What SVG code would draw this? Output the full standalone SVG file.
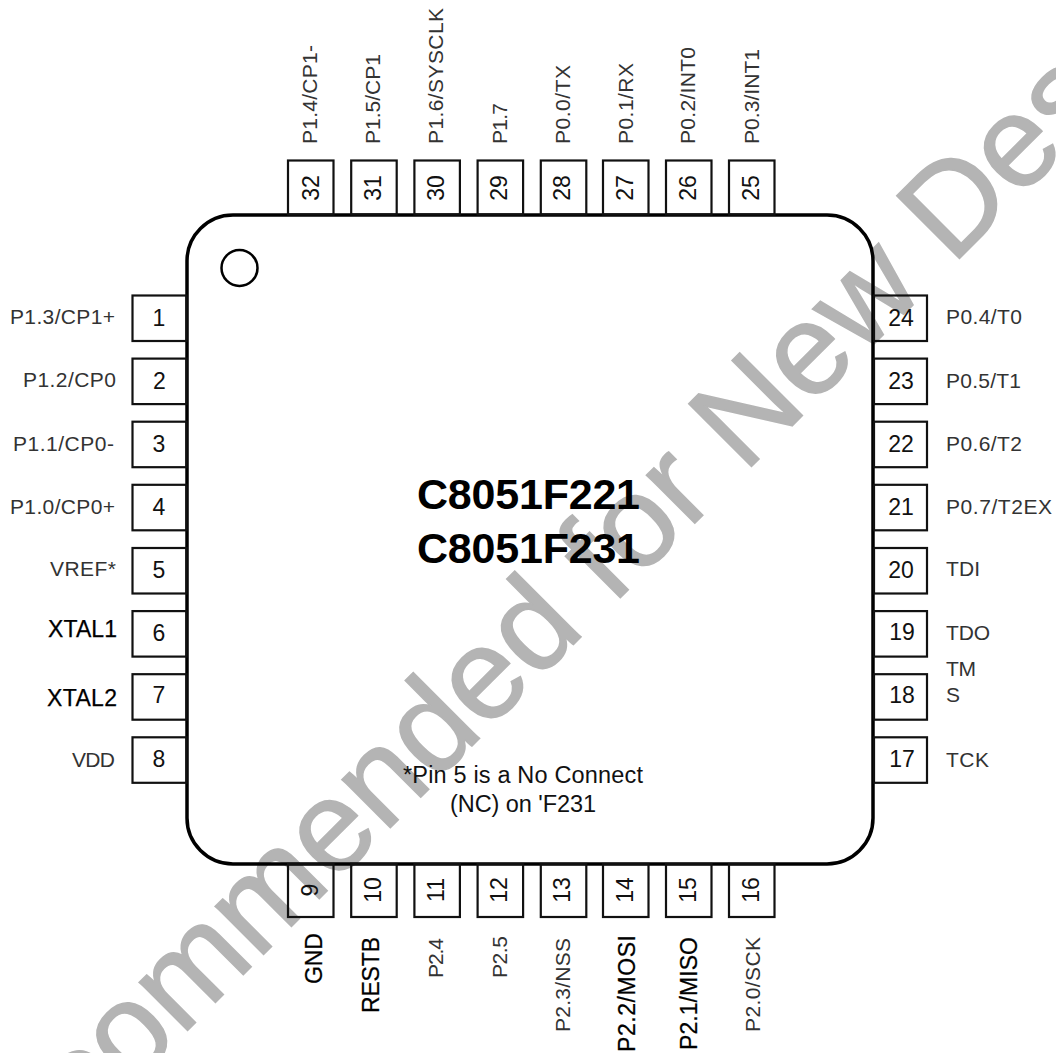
<svg xmlns="http://www.w3.org/2000/svg" width="1056" height="1053" viewBox="0 0 1056 1053">
<style>
text{font-family:"Liberation Sans",Arial,sans-serif}
.wm{font-size:129px;fill:#b4b4b4;stroke:#b4b4b4;stroke-width:1.5}
.pin{fill:none;stroke:#111;stroke-width:2.2}
.n{font-size:23px;fill:#111;text-anchor:middle}
.l{font-size:21px;fill:#333}
.b{font-size:23px;fill:#000;stroke:#000;stroke-width:.25}
.t{font-size:43px;font-weight:bold;fill:#000}
.note{font-size:23.5px;fill:#111}
</style>
<rect width="1056" height="1053" fill="#fff"/>
<text id="watermark" class="wm" transform="translate(85 1133) rotate(-45)">commended for New Des</text>
<g id="body"><rect x="187" y="215" width="686" height="649" rx="46" ry="46" fill="none" stroke="#000" stroke-width="3.5"/><circle cx="239.5" cy="268" r="18" fill="none" stroke="#000" stroke-width="2.5"/></g>
<g id="title"><text class="t" x="417" y="509" textLength="223">C8051F221</text><text class="t" x="417" y="562.5" textLength="223">C8051F231</text></g>
<g id="note"><text class="note" x="403" y="783" textLength="240">*Pin 5 is a No Connect</text><text class="note" x="450" y="812" textLength="146">(NC) on 'F231</text></g>
<g id="pin1"><rect class="pin" x="132.5" y="295.5" width="54" height="45.5"/><text class="n" x="159" y="326">1</text><text class="l" x="10" y="324" textLength="105">P1.3/CP1+</text></g>
<g id="pin2"><rect class="pin" x="132.5" y="358.6" width="54" height="45.5"/><text class="n" x="159.5" y="389">2</text><text class="l" x="23" y="387" textLength="93">P1.2/CP0</text></g>
<g id="pin3"><rect class="pin" x="132.5" y="421.7" width="54" height="45.5"/><text class="n" x="159" y="451.5">3</text><text class="l" x="13" y="451" textLength="101">P1.1/CP0-</text></g>
<g id="pin4"><rect class="pin" x="132.5" y="484.8" width="54" height="45.5"/><text class="n" x="159" y="514.5">4</text><text class="l" x="10" y="514" textLength="105">P1.0/CP0+</text></g>
<g id="pin5"><rect class="pin" x="132.5" y="548" width="54" height="45.5"/><text class="n" x="159" y="577.5">5</text><text class="l" x="50" y="576" textLength="66">VREF*</text></g>
<g id="pin6"><rect class="pin" x="132.5" y="611.1" width="54" height="45.5"/><text class="n" x="159" y="640.5">6</text><text class="b" x="48" y="637" textLength="69">XTAL1</text></g>
<g id="pin7"><rect class="pin" x="132.5" y="674.2" width="54" height="45.5"/><text class="n" x="159" y="703">7</text><text class="b" x="47" y="706" textLength="70">XTAL2</text></g>
<g id="pin8"><rect class="pin" x="132.5" y="737.3" width="54" height="45.5"/><text class="n" x="159" y="767">8</text><text class="l" x="72" y="767" textLength="43">VDD</text></g>
<g id="pin24"><rect class="pin" x="874" y="295.5" width="53" height="45.5"/><text class="n" x="901" y="326">24</text><text class="l" x="946" y="324" textLength="76">P0.4/T0</text></g>
<g id="pin23"><rect class="pin" x="874" y="358.6" width="53" height="45.5"/><text class="n" x="901" y="389">23</text><text class="l" x="946" y="388" textLength="75">P0.5/T1</text></g>
<g id="pin22"><rect class="pin" x="874" y="421.7" width="53" height="45.5"/><text class="n" x="901" y="451.5">22</text><text class="l" x="946" y="451" textLength="76">P0.6/T2</text></g>
<g id="pin21"><rect class="pin" x="874" y="484.8" width="53" height="45.5"/><text class="n" x="901" y="514.5">21</text><text class="l" x="946" y="514" textLength="106">P0.7/T2EX</text></g>
<g id="pin20"><rect class="pin" x="874" y="548" width="53" height="45.5"/><text class="n" x="901" y="577.5">20</text><text class="l" x="946" y="576" textLength="34">TDI</text></g>
<g id="pin19"><rect class="pin" x="874" y="611.1" width="53" height="45.5"/><text class="n" x="902" y="640">19</text><text class="l" x="946" y="640" textLength="44">TDO</text></g>
<g id="pin18"><rect class="pin" x="874" y="674.2" width="53" height="45.5"/><text class="n" x="902" y="703">18</text><text class="l" x="946" y="676" textLength="30">TM</text><text class="l" x="946" y="702" textLength="13">S</text></g>
<g id="pin17"><rect class="pin" x="874" y="737.3" width="53" height="45.5"/><text class="n" x="902" y="767">17</text><text class="l" x="946" y="767" textLength="43">TCK</text></g>
<g id="pin32"><rect class="pin" x="288" y="160.5" width="45.5" height="54"/><text class="n" transform="translate(319 188) rotate(-90)">32</text><text class="l" transform="translate(317 144) rotate(-90)" textLength="99">P1.4/CP1-</text></g>
<g id="pin31"><rect class="pin" x="351.2" y="160.5" width="45.5" height="54"/><text class="n" transform="translate(381 188) rotate(-90)">31</text><text class="l" transform="translate(380 144) rotate(-90)" textLength="90">P1.5/CP1</text></g>
<g id="pin30"><rect class="pin" x="414.4" y="160.5" width="45.5" height="54"/><text class="n" transform="translate(444 188) rotate(-90)">30</text><text class="l" transform="translate(443 144) rotate(-90)" textLength="136">P1.6/SYSCLK</text></g>
<g id="pin29"><rect class="pin" x="477.6" y="160.5" width="45.5" height="54"/><text class="n" transform="translate(507 188) rotate(-90)">29</text><text class="l" transform="translate(506.5 144) rotate(-90)" textLength="41">P1.7</text></g>
<g id="pin28"><rect class="pin" x="540.8" y="160.5" width="45.5" height="54"/><text class="n" transform="translate(570 188) rotate(-90)">28</text><text class="l" transform="translate(570 144) rotate(-90)" textLength="79">P0.0/TX</text></g>
<g id="pin27"><rect class="pin" x="603" y="160.5" width="45.5" height="54"/><text class="n" transform="translate(633 188) rotate(-90)">27</text><text class="l" transform="translate(633 144) rotate(-90)" textLength="81">P0.1/RX</text></g>
<g id="pin26"><rect class="pin" x="666" y="160.5" width="45.5" height="54"/><text class="n" transform="translate(696 188) rotate(-90)">26</text><text class="l" transform="translate(695 144) rotate(-90)" textLength="97">P0.2/INT0</text></g>
<g id="pin25"><rect class="pin" x="729" y="160.5" width="45.5" height="54"/><text class="n" transform="translate(759 188) rotate(-90)">25</text><text class="l" transform="translate(759 144) rotate(-90)" textLength="95">P0.3/INT1</text></g>
<g id="pin9"><rect class="pin" x="288" y="864" width="45.5" height="53"/><text class="n" transform="translate(318 890) rotate(-90)">9</text><text class="b" transform="translate(322 984) rotate(-90)" textLength="51">GND</text></g>
<g id="pin10"><rect class="pin" x="351.2" y="864" width="45.5" height="53"/><text class="n" transform="translate(380.5 890) rotate(-90)">10</text><text class="b" transform="translate(379 1013) rotate(-90)" textLength="76">RESTB</text></g>
<g id="pin11"><rect class="pin" x="414.4" y="864" width="45.5" height="53"/><text class="n" transform="translate(444 890) rotate(-90)">11</text><text class="l" transform="translate(443 978) rotate(-90)" textLength="40">P2.4</text></g>
<g id="pin12"><rect class="pin" x="477.6" y="864" width="45.5" height="53"/><text class="n" transform="translate(507 890) rotate(-90)">12</text><text class="l" transform="translate(507 978) rotate(-90)" textLength="42">P2.5</text></g>
<g id="pin13"><rect class="pin" x="540.8" y="864" width="45.5" height="53"/><text class="n" transform="translate(570 890) rotate(-90)">13</text><text class="l" transform="translate(570 1032) rotate(-90)" textLength="94">P2.3/NSS</text></g>
<g id="pin14"><rect class="pin" x="603" y="864" width="45.5" height="53"/><text class="n" transform="translate(633 890) rotate(-90)">14</text><text class="b" transform="translate(635 1052) rotate(-90)" textLength="117">P2.2/MOSI</text></g>
<g id="pin15"><rect class="pin" x="666" y="864" width="45.5" height="53"/><text class="n" transform="translate(696 890) rotate(-90)">15</text><text class="b" transform="translate(697 1050) rotate(-90)" textLength="113">P2.1/MISO</text></g>
<g id="pin16"><rect class="pin" x="729" y="864" width="45.5" height="53"/><text class="n" transform="translate(759 890) rotate(-90)">16</text><text class="l" transform="translate(760 1032) rotate(-90)" textLength="95">P2.0/SCK</text></g>
</svg>
